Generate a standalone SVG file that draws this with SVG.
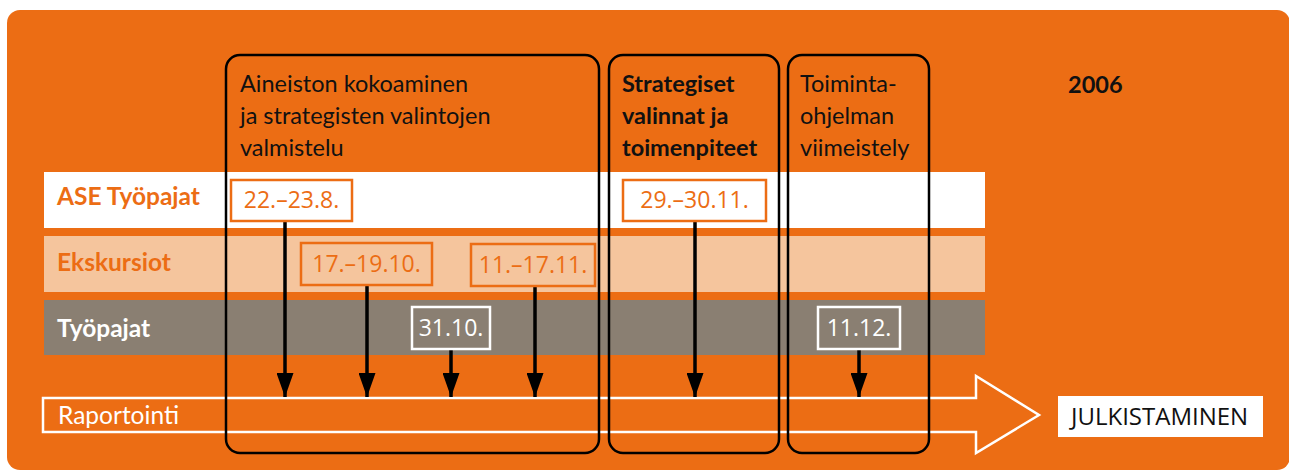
<svg xmlns="http://www.w3.org/2000/svg" width="1289" height="471" viewBox="0 0 1289 471">
<defs>
<marker id="ah" viewBox="0 0 24 17" markerWidth="24" markerHeight="17" refX="24" refY="8.5" orient="auto" markerUnits="userSpaceOnUse">
<path d="M0,0 L24,8.5 L0,17 Z" fill="#000"/>
</marker>
</defs>
<style>
.hdr{font-family:Lato,"Open Sans",sans-serif;font-size:23.5px;fill:#111}
.hb{font-weight:bold}
.lbl{font-family:Lato,"Open Sans",sans-serif;font-size:24.5px;font-weight:bold}
.date{font-family:"Open Sans","Noto Sans",sans-serif;font-size:23px}
.phase{fill:none;stroke:#000;stroke-width:2.5}
.conn{stroke:#000;stroke-width:3.5;fill:none}
</style>
<rect x="7" y="10" width="1283" height="460" rx="13" fill="#EC6D14"/>
<g id="rows">
<rect x="44" y="172" width="941" height="56" fill="#FFFFFF"/>
<rect x="44" y="236" width="941" height="56" fill="#F5C59D"/>
<rect x="44" y="300" width="941" height="55" fill="#8A7F72"/>
<text class="lbl" x="57" y="205" fill="#EC6D14">ASE Työpajat</text>
<text class="lbl" x="57" y="271" fill="#EC6D14">Ekskursiot</text>
<text class="lbl" x="57" y="337" fill="#FFFFFF">Työpajat</text>
</g>
<g id="raportointi">
<path d="M43,398 L976,398 L976,376 L1039,415 L976,453 L976,432 L43,432 Z" fill="none" stroke="#FFFFFF" stroke-width="2.5"/>
<text x="58" y="424" font-family="Lato,'Open Sans',sans-serif" font-size="24.5" fill="#FFFFFF">Raportointi</text>
</g>
<g id="julkistaminen">
<rect x="1058" y="396" width="205" height="41" fill="#FFFFFF"/>
<text x="1071" y="425" font-family="'Open Sans','Noto Sans',sans-serif" font-size="24" fill="#111">JULKISTAMINEN</text>
</g>
<g id="year">
<text class="hdr hb" x="1068" y="93">2006</text>
</g>
<g id="phase1">
<rect class="phase" x="226" y="55" width="373" height="398" rx="14"/>
<text class="hdr" x="240" y="92">Aineiston kokoaminen</text>
<text class="hdr" x="240" y="124">ja strategisten valintojen</text>
<text class="hdr" x="240" y="156">valmistelu</text>
</g>
<g id="phase2">
<rect class="phase" x="609" y="55" width="170" height="398" rx="14"/>
<text class="hdr hb" x="622" y="92">Strategiset</text>
<text class="hdr hb" x="622" y="124">valinnat ja</text>
<text class="hdr hb" x="622" y="156">toimenpiteet</text>
</g>
<g id="phase3">
<rect class="phase" x="788" y="55" width="141" height="398" rx="14"/>
<text class="hdr" x="800" y="92">Toiminta-</text>
<text class="hdr" x="800" y="124">ohjelman</text>
<text class="hdr" x="800" y="156">viimeistely</text>
</g>
<g id="connectors">
<line class="conn" x1="285" y1="221" x2="285" y2="397" marker-end="url(#ah)"/>
<line class="conn" x1="367" y1="285" x2="367" y2="397" marker-end="url(#ah)"/>
<line class="conn" x1="451" y1="349" x2="451" y2="397" marker-end="url(#ah)"/>
<line class="conn" x1="535" y1="286" x2="535" y2="397" marker-end="url(#ah)"/>
<line class="conn" x1="695" y1="221" x2="695" y2="397" marker-end="url(#ah)"/>
<line class="conn" x1="859" y1="349" x2="859" y2="397" marker-end="url(#ah)"/>
</g>
<g id="d1">
<rect x="231" y="180" width="121" height="41" fill="#FFFFFF" stroke="#EC6D14" stroke-width="2.5"/>
<text class="date" x="291.5" y="208" text-anchor="middle" fill="#EC6D14">22.–23.8.</text>
</g>
<g id="d2">
<rect x="301" y="243" width="131" height="42" fill="#F5C59D" stroke="#EC6D14" stroke-width="2.5"/>
<text class="date" x="366.5" y="272" text-anchor="middle" fill="#EC6D14">17.–19.10.</text>
</g>
<g id="d3">
<rect x="471" y="244" width="124" height="42" fill="#F5C59D" stroke="#EC6D14" stroke-width="2.5"/>
<text class="date" x="533" y="273" text-anchor="middle" fill="#EC6D14">11.–17.11.</text>
</g>
<g id="d4">
<rect x="412" y="307" width="78" height="42" fill="#8A7F72" stroke="#FFFFFF" stroke-width="2.5"/>
<text class="date" x="451" y="336" text-anchor="middle" fill="#FFFFFF">31.10.</text>
</g>
<g id="d5">
<rect x="623" y="180" width="143" height="41" fill="#FFFFFF" stroke="#EC6D14" stroke-width="2.5"/>
<text class="date" x="694.5" y="208" text-anchor="middle" fill="#EC6D14">29.–30.11.</text>
</g>
<g id="d6">
<rect x="818" y="307" width="82" height="42" fill="#8A7F72" stroke="#FFFFFF" stroke-width="2.5"/>
<text class="date" x="859" y="336" text-anchor="middle" fill="#FFFFFF">11.12.</text>
</g>
</svg>
